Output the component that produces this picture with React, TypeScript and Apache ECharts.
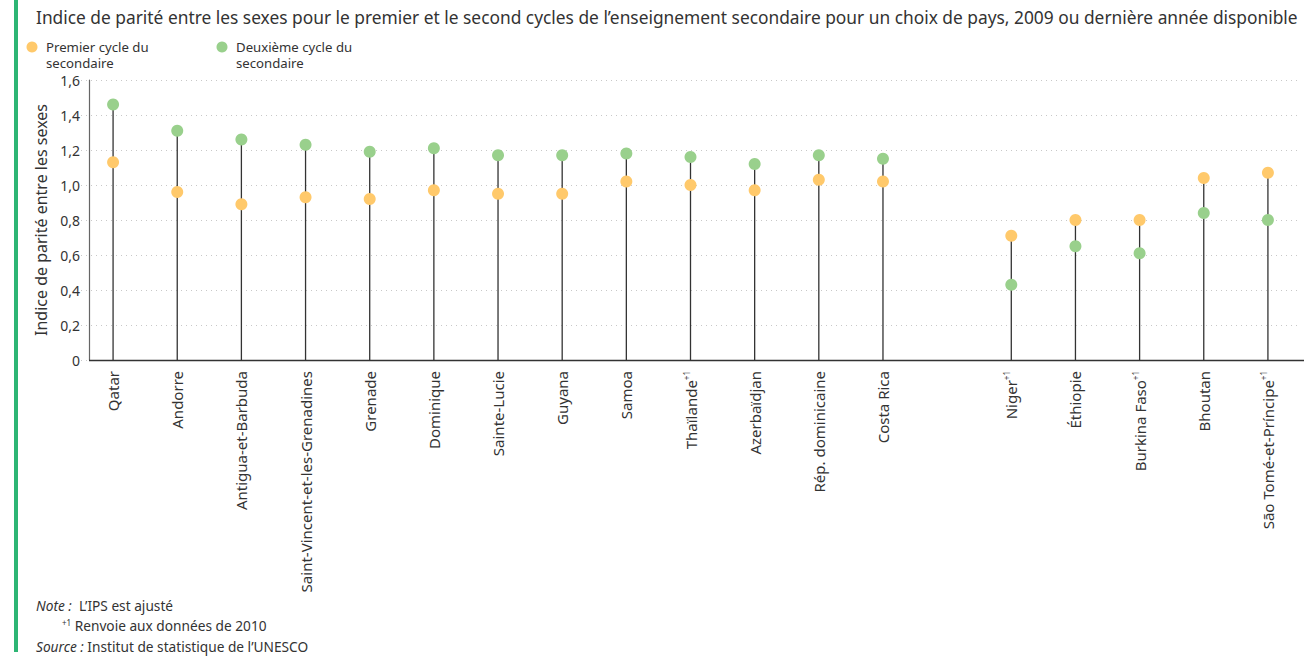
import React, { useEffect, useRef } from "react";
import * as echarts from "echarts";

const categories = [
  "Qatar", "Andorre", "Antigua-et-Barbuda", "Saint-Vincent-et-les-Grenadines", "Grenade",
  "Dominique", "Sainte-Lucie", "Guyana", "Samoa", "Thaïlande", "Azerbaïdjan",
  "Rép. dominicaine", "Costa Rica", "", "Niger", "Éthiopie", "Burkina Faso", "Bhoutan",
  "São Tomé-et-Príncipe",
];
const superscripts = [
  "", "", "", "", "", "", "", "", "", "+1", "", "", "", "", "+1", "", "+1", "", "+1",
];
const premierCycle: (number | null)[] = [
  1.13, 0.96, 0.89, 0.93, 0.92, 0.97, 0.95, 0.95, 1.02, 1.0, 0.97, 1.03, 1.02, null,
  0.71, 0.8, 0.8, 1.04, 1.07,
];
const deuxiemeCycle: (number | null)[] = [
  1.46, 1.31, 1.26, 1.23, 1.19, 1.21, 1.17, 1.17, 1.18, 1.16, 1.12, 1.17, 1.15, null,
  0.43, 0.65, 0.61, 0.84, 0.8,
];
const yTicks = [0, 0.2, 0.4, 0.6, 0.8, 1.0, 1.2, 1.4, 1.6];

const FONT = "'Noto Sans', sans-serif";
const ORANGE = "#FFC96B";
const GREEN = "#99D08C";
const TEXT = "#333333";

export default function App() {
  const ref = useRef<HTMLDivElement>(null);
  useEffect(() => {
    if (!ref.current) return;
    const chart = echarts.init(ref.current, undefined, { renderer: "svg" });
    const stems = categories.map((_, i) => [i, premierCycle[i], deuxiemeCycle[i]]);
    chart.setOption({
      animation: false,
      textStyle: { fontFamily: FONT, color: TEXT },
      grid: { left: 81, right: 12, top: 80, bottom: 297 },
      xAxis: {
        type: "category",
        data: categories,
        boundaryGap: true,
        axisLine: { show: false },
        axisTick: { show: false },
        axisLabel: {
          rotate: 90,
          interval: 0,
          margin: 11,
          fontSize: 15,
          color: TEXT,
          fontFamily: FONT,
          lineHeight: 17,
          formatter: (v: string, i: number) =>
            superscripts[i] ? `${v}{sup|${superscripts[i]}}` : v,
          rich: { sup: { fontSize: 8, verticalAlign: "top", color: TEXT, fontFamily: FONT, lineHeight: 17 } },
        },
      },
      yAxis: {
        type: "value",
        min: yTicks[0],
        max: yTicks[yTicks.length - 1],
        interval: 0.2,
        offset: -8,
        name: "Indice de parité entre les sexes",
        nameLocation: "middle",
        nameGap: 38,
        nameTextStyle: { fontSize: 16, color: TEXT, fontFamily: FONT },
        axisLine: { show: true, lineStyle: { color: "#666", width: 1.2 } },
        axisTick: { show: false },
        axisLabel: {
          fontSize: 14,
          color: TEXT,
          margin: 9,
          formatter: (v: number) => (v === 0 ? "0" : v.toFixed(1).replace(".", ",")),
        },
        splitLine: { show: true, lineStyle: { color: "#c8c8c8", type: [1, 4], width: 1 } },
      },
      series: [
        {
          type: "custom",
          z: 1,
          data: stems,
          renderItem: (params: any, api: any) => {
            const a = api.value(1);
            const b = api.value(2);
            if (isNaN(a) || isNaN(b)) return null;
            const base = api.coord([api.value(0), 0]);
            const top = api.coord([api.value(0), Math.max(a, b)]);
            return {
              type: "line",
              shape: { x1: base[0], y1: base[1], x2: top[0], y2: top[1] },
              style: { stroke: "#333", lineWidth: 1.3 },
            };
          },
        },
        {
          name: "Premier cycle du secondaire",
          type: "scatter",
          z: 3,
          symbolSize: 12,
          itemStyle: { color: ORANGE, opacity: 1 },
          data: premierCycle.map((v) => (v === null ? "-" : v)),
        },
        {
          name: "Deuxième cycle du secondaire",
          type: "scatter",
          z: 3,
          symbolSize: 12,
          itemStyle: { color: GREEN, opacity: 1 },
          data: deuxiemeCycle.map((v) => (v === null ? "-" : v)),
        },
      ],
      graphic: [
        { type: "rect", left: 14, top: 0, shape: { width: 4, height: 652 }, style: { fill: "#2DB574" } },
        {
          type: "line",
          shape: { x1: 89, y1: 360.5, x2: 1304, y2: 360.5 },
          style: { stroke: "#333", lineWidth: 1.3 },
          z: 5,
        },
        {
          type: "text", left: 36, top: 8,
          style: {
            text: "Indice de parité entre les sexes pour le premier et le second cycles de l’enseignement secondaire pour un choix de pays, 2009 ou dernière année disponible",
            font: `17.35px ${FONT}`, fill: TEXT,
          },
        },
        { type: "circle", shape: { cx: 32, cy: 47, r: 5.5 }, style: { fill: ORANGE } },
        { type: "text", x: 46, y: 46.5, style: { text: "Premier cycle du", font: `13.2px ${FONT}`, fill: TEXT, verticalAlign: "middle" } },
        { type: "text", x: 46, y: 62.5, style: { text: "secondaire", font: `13.2px ${FONT}`, fill: TEXT, verticalAlign: "middle" } },
        { type: "circle", shape: { cx: 222, cy: 47, r: 5.5 }, style: { fill: GREEN } },
        { type: "text", x: 236, y: 46.5, style: { text: "Deuxième cycle du", font: `13.2px ${FONT}`, fill: TEXT, verticalAlign: "middle" } },
        { type: "text", x: 236, y: 62.5, style: { text: "secondaire", font: `13.2px ${FONT}`, fill: TEXT, verticalAlign: "middle" } },
        {
          type: "text", x: 36, y: 605,
          style: {
            text: "{it|Note :}  L’IPS est ajusté",
            font: `13.7px ${FONT}`, fill: TEXT, verticalAlign: "middle",
            rich: { it: { font: `italic 13.7px ${FONT}`, fill: TEXT } },
          },
        },
        {
          type: "text", x: 62, y: 625,
          style: {
            text: "{sup|+1} Renvoie aux données de 2010",
            font: `13.7px ${FONT}`, fill: TEXT, verticalAlign: "middle",
            rich: { sup: { font: `8px ${FONT}`, verticalAlign: "top", fill: TEXT } },
          },
        },
        {
          type: "text", x: 36, y: 646,
          style: {
            text: "{it|Source :} Institut de statistique de l’UNESCO",
            font: `13.7px ${FONT}`, fill: TEXT, verticalAlign: "middle",
            rich: { it: { font: `italic 13.7px ${FONT}`, fill: TEXT } },
          },
        },
      ],
    });
    return () => chart.dispose();
  }, []);
  return (
    <div
      ref={ref}
      style={{ position: "fixed", left: 0, top: 0, width: 1312, height: 657, background: "#fff" }}
    />
  );
}
